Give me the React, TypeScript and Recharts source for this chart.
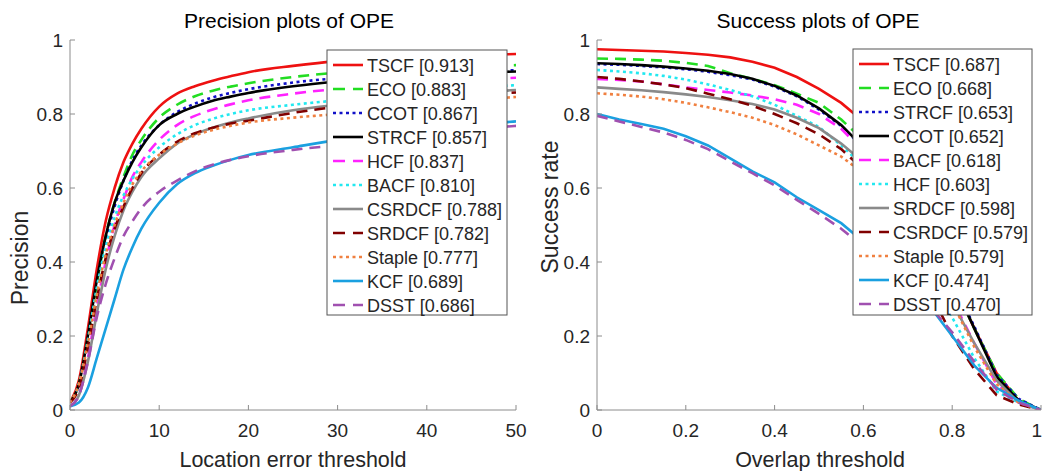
import React from 'react';
import { LineChart, Line, XAxis, YAxis } from 'recharts';

// ---------- Precision plot data ----------
const precisionThresholds = [0, 1, 2, 3, 4, 5, 6, 7, 8, 10, 12, 14, 16, 18, 20, 25, 30, 35, 40, 45, 50];
const precisionNames = ['TSCF', 'ECO', 'CCOT', 'STRCF', 'HCF', 'BACF', 'CSRDCF', 'SRDCF', 'Staple', 'KCF', 'DSST'];
const precisionScores = ['0.913', '0.883', '0.867', '0.857', '0.837', '0.810', '0.788', '0.782', '0.777', '0.689', '0.686'];
const precTSCF = [0.02, 0.08, 0.22, 0.38, 0.51, 0.6, 0.67, 0.72, 0.76, 0.82, 0.855, 0.875, 0.89, 0.902, 0.913, 0.93, 0.943, 0.95, 0.955, 0.959, 0.962];
const precECO = [0.02, 0.07, 0.19, 0.34, 0.47, 0.56, 0.63, 0.69, 0.73, 0.79, 0.825, 0.848, 0.863, 0.874, 0.883, 0.9, 0.912, 0.92, 0.925, 0.929, 0.932];
const precCCOT = [0.02, 0.07, 0.19, 0.34, 0.46, 0.55, 0.62, 0.675, 0.715, 0.77, 0.805, 0.828, 0.845, 0.857, 0.867, 0.885, 0.897, 0.906, 0.912, 0.916, 0.918];
const precSTRCF = [0.02, 0.07, 0.2, 0.35, 0.47, 0.56, 0.62, 0.67, 0.71, 0.77, 0.8, 0.82, 0.836, 0.847, 0.857, 0.875, 0.888, 0.898, 0.906, 0.911, 0.915];
const precHCF = [0.01, 0.04, 0.14, 0.28, 0.4, 0.5, 0.57, 0.63, 0.67, 0.73, 0.77, 0.795, 0.812, 0.826, 0.837, 0.855, 0.868, 0.878, 0.886, 0.893, 0.898];
const precBACF = [0.02, 0.07, 0.19, 0.33, 0.44, 0.52, 0.58, 0.625, 0.66, 0.71, 0.745, 0.77, 0.787, 0.8, 0.81, 0.825, 0.837, 0.848, 0.86, 0.87, 0.878];
const precCSRDCF = [0.01, 0.04, 0.13, 0.26, 0.38, 0.47, 0.54, 0.59, 0.63, 0.68, 0.72, 0.745, 0.763, 0.777, 0.788, 0.81, 0.825, 0.838, 0.848, 0.857, 0.865];
const precSRDCF = [0.02, 0.06, 0.17, 0.3, 0.41, 0.49, 0.55, 0.6, 0.64, 0.69, 0.725, 0.748, 0.763, 0.774, 0.782, 0.803, 0.82, 0.833, 0.843, 0.852, 0.858];
const precStaple = [0.02, 0.07, 0.18, 0.31, 0.42, 0.5, 0.56, 0.61, 0.645, 0.69, 0.72, 0.742, 0.757, 0.768, 0.777, 0.79, 0.8, 0.812, 0.825, 0.837, 0.846];
const precKCF = [0.01, 0.02, 0.06, 0.14, 0.22, 0.3, 0.38, 0.44, 0.49, 0.56, 0.61, 0.64, 0.66, 0.676, 0.689, 0.71, 0.73, 0.745, 0.758, 0.77, 0.78];
const precDSST = [0.01, 0.04, 0.13, 0.25, 0.34, 0.41, 0.47, 0.51, 0.545, 0.59, 0.62, 0.645, 0.663, 0.676, 0.686, 0.703, 0.716, 0.73, 0.745, 0.758, 0.768];
const precisionSeries = [precTSCF, precECO, precCCOT, precSTRCF, precHCF, precBACF, precCSRDCF, precSRDCF, precStaple, precKCF, precDSST];

// ---------- Success plot data ----------
const successThresholds = [0, 0.05, 0.1, 0.15, 0.2, 0.25, 0.3, 0.35, 0.4, 0.45, 0.5, 0.55, 0.6, 0.65, 0.7, 0.75, 0.8, 0.85, 0.9, 0.95, 1];
const successNames = ['TSCF', 'ECO', 'STRCF', 'CCOT', 'BACF', 'HCF', 'SRDCF', 'CSRDCF', 'Staple', 'KCF', 'DSST'];
const successScores = ['0.687', '0.668', '0.653', '0.652', '0.618', '0.603', '0.598', '0.579', '0.579', '0.474', '0.470'];
const succTSCF = [0.975, 0.973, 0.971, 0.969, 0.965, 0.96, 0.953, 0.941, 0.925, 0.9, 0.868, 0.83, 0.78, 0.71, 0.6, 0.48, 0.35, 0.22, 0.1, 0.025, 0];
const succECO = [0.95, 0.949, 0.947, 0.944, 0.938, 0.93, 0.91, 0.895, 0.878, 0.855, 0.83, 0.785, 0.73, 0.66, 0.575, 0.47, 0.35, 0.22, 0.1, 0.03, 0];
const succSTRCF = [0.935, 0.933, 0.93, 0.926, 0.921, 0.914, 0.905, 0.893, 0.874, 0.848, 0.812, 0.768, 0.708, 0.64, 0.56, 0.46, 0.35, 0.225, 0.095, 0.03, 0];
const succCCOT = [0.937, 0.935, 0.932, 0.928, 0.923, 0.917, 0.908, 0.895, 0.876, 0.85, 0.815, 0.77, 0.71, 0.64, 0.56, 0.46, 0.35, 0.22, 0.09, 0.025, 0];
const succBACF = [0.895, 0.892, 0.888, 0.88, 0.872, 0.865, 0.858, 0.85, 0.84, 0.825, 0.8, 0.76, 0.7, 0.62, 0.53, 0.42, 0.3, 0.18, 0.07, 0.02, 0];
const succHCF = [0.919, 0.915, 0.91, 0.903, 0.893, 0.88, 0.865, 0.848, 0.825, 0.795, 0.765, 0.715, 0.66, 0.58, 0.48, 0.37, 0.25, 0.14, 0.05, 0.02, 0];
const succSRDCF = [0.872, 0.868, 0.864, 0.859, 0.853, 0.846, 0.837, 0.827, 0.812, 0.79, 0.762, 0.72, 0.67, 0.59, 0.5, 0.4, 0.29, 0.18, 0.08, 0.02, 0];
const succCSRDCF = [0.9, 0.895, 0.888, 0.88, 0.87, 0.855, 0.84, 0.822, 0.8, 0.775, 0.745, 0.705, 0.65, 0.53, 0.43, 0.32, 0.2, 0.11, 0.04, 0.015, 0];
const succStaple = [0.856, 0.852, 0.847, 0.84, 0.83, 0.818, 0.805, 0.79, 0.77, 0.745, 0.715, 0.685, 0.64, 0.58, 0.5, 0.4, 0.29, 0.17, 0.07, 0.02, 0];
const succKCF = [0.8, 0.785, 0.773, 0.76, 0.74, 0.715, 0.68, 0.645, 0.615, 0.575, 0.54, 0.505, 0.455, 0.4, 0.34, 0.28, 0.2, 0.12, 0.06, 0.025, 0];
const succDSST = [0.795, 0.78, 0.765, 0.75, 0.73, 0.705, 0.672, 0.64, 0.607, 0.568, 0.53, 0.49, 0.44, 0.39, 0.335, 0.28, 0.21, 0.13, 0.055, 0.02, 0];
const successSeries = [succTSCF, succECO, succSTRCF, succCCOT, succBACF, succHCF, succSRDCF, succCSRDCF, succStaple, succKCF, succDSST];

// ---------- Tick labels ----------
const precisionXTicks = [0, 10, 20, 30, 40, 50];
const successXTicks = [0, 0.2, 0.4, 0.6, 0.8, 1];
const yTicks = [0, 0.2, 0.4, 0.6, 0.8, 1];

// ---------- Styles (by rank) ----------
const rankColors = ['#ee1111', '#22dd22', '#1010c8', '#000000', '#ff22ff', '#22e8f0', '#8a8a8a', '#800000', '#f08040', '#1aa0e0', '#a050b0'];
const rankDash = ['', '11 7', '3 3.5', '', '11 7', '3 3.5', '', '11 7', '3 3.5', '', '11 7'];

const FONT = '"Liberation Sans", Arial, Helvetica, sans-serif';
const AXIS_COLOR = '#8c8c8c';
const TEXT_COLOR = '#262626';
const TICK_FONT = 19;

function buildRows(xs: number[], names: string[], series: number[][]) {
  return xs.map((x, i) => {
    const row: Record<string, number> = { x };
    names.forEach((n, k) => {
      row[n] = series[k][i];
    });
    return row;
  });
}

const precisionRows = buildRows(precisionThresholds, precisionNames, precisionSeries);
const successRows = buildRows(successThresholds, successNames, successSeries);

function makeXTick(lastEndAnchor: boolean, lastValue: number) {
  return (props: any) => {
    const { x, y, payload } = props;
    const isLast = lastEndAnchor && payload.value === lastValue;
    return (
      <text
        x={isLast ? x + 1 : x}
        y={y}
        dy="0.71em"
        textAnchor={isLast ? 'end' : 'middle'}
        fontSize={TICK_FONT}
        fill={TEXT_COLOR}
        fontFamily={FONT}
      >
        {String(payload.value)}
      </text>
    );
  };
}

function YTick(props: any) {
  const { x, y, payload } = props;
  return (
    <text x={x} y={y} dy="0.35em" textAnchor="end" fontSize={TICK_FONT} fill={TEXT_COLOR} fontFamily={FONT}>
      {String(payload.value)}
    </text>
  );
}

function Plot(props: {
  width: number;
  rows: Record<string, number>[];
  names: string[];
  xDomain: [number, number];
  xTicks: number[];
  rightMargin: number;
  curve: 'monotone' | 'linear';
  lastEndAnchor: boolean;
}) {
  const { width, rows, names, xDomain, xTicks, rightMargin, curve, lastEndAnchor } = props;
  return (
    <LineChart width={width} height={471} data={rows} margin={{ top: 40, right: rightMargin, bottom: 31, left: 0 }}>
      <XAxis
        dataKey="x"
        type="number"
        domain={xDomain}
        ticks={xTicks}
        height={30}
        tickSize={-5}
        tickMargin={19}
        stroke={AXIS_COLOR}
        tick={makeXTick(lastEndAnchor, xTicks[xTicks.length - 1])}
        interval={0}
        allowDataOverflow
      />
      <XAxis
        xAxisId="top"
        orientation="top"
        type="number"
        domain={xDomain}
        ticks={xTicks}
        height={0}
        tickSize={-5}
        tick={false}
        stroke={AXIS_COLOR}
        allowDataOverflow
      />
      <YAxis
        type="number"
        domain={[0, 1]}
        ticks={yTicks}
        width={70}
        tickSize={-5}
        tickMargin={12}
        stroke={AXIS_COLOR}
        tick={YTick}
        interval={0}
        allowDataOverflow
      />
      <YAxis
        yAxisId="right"
        orientation="right"
        type="number"
        domain={[0, 1]}
        ticks={yTicks}
        width={0}
        tickSize={-5}
        tick={false}
        stroke={AXIS_COLOR}
        allowDataOverflow
      />
      {names.map((n, k) => (
        <Line
          key={n}
          dataKey={n}
          type={curve}
          stroke={rankColors[k]}
          strokeWidth={2.6}
          strokeDasharray={rankDash[k] || undefined}
          dot={false}
          activeDot={false}
          isAnimationActive={false}
        />
      ))}
    </LineChart>
  );
}

function Legend(props: { x: number; y: number; w: number; h: number; names: string[]; scores: string[] }) {
  const { x, y, w, h, names, scores } = props;
  const first = y + 15;
  return (
    <g>
      <rect x={x} y={y} width={w} height={h} fill="#ffffff" stroke="#555555" strokeWidth={1} />
      {names.map((n, i) => {
        const cy = first + i * 24;
        return (
          <g key={n}>
            <line
              x1={x + 6}
              x2={x + 36}
              y1={cy}
              y2={cy}
              stroke={rankColors[i]}
              strokeWidth={2.6}
              strokeDasharray={rankDash[i] === '11 7' ? '12 8' : rankDash[i] || undefined}
            />
            <text x={x + 40} y={cy + 6.5} fontSize={18} fill={TEXT_COLOR} fontFamily={FONT}>
              {`${n} [${scores[i]}]`}
            </text>
          </g>
        );
      })}
    </g>
  );
}

export default function App() {
  return (
    <div style={{ position: 'absolute', left: 0, top: 0, width: 1042, height: 471, background: '#ffffff', overflow: 'hidden' }}>
      <div style={{ position: 'absolute', left: 0, top: 0 }}>
        <Plot
          width={527}
          rows={precisionRows}
          names={precisionNames}
          xDomain={[0, 50]}
          xTicks={precisionXTicks}
          rightMargin={11}
          curve="monotone"
          lastEndAnchor={false}
        />
      </div>
      <div style={{ position: 'absolute', left: 527, top: 0 }}>
        <Plot
          width={515}
          rows={successRows}
          names={successNames}
          xDomain={[0, 1]}
          xTicks={successXTicks}
          rightMargin={1}
          curve="linear"
          lastEndAnchor={true}
        />
      </div>
      <svg width={1042} height={471} style={{ position: 'absolute', left: 0, top: 0, pointerEvents: 'none' }}>
        <text x={289} y={28} textAnchor="middle" fontSize={21} fill="#000" fontFamily={FONT}>
          Precision plots of OPE
        </text>
        <text x={818} y={28} textAnchor="middle" fontSize={21} fill="#000" fontFamily={FONT}>
          Success plots of OPE
        </text>
        <text x={293} y={467} textAnchor="middle" fontSize={21.5} fill={TEXT_COLOR} fontFamily={FONT}>
          Location error threshold
        </text>
        <text x={820} y={467} textAnchor="middle" fontSize={21.5} fill={TEXT_COLOR} fontFamily={FONT}>
          Overlap threshold
        </text>
        <text
          x={0}
          y={0}
          transform="translate(28 258) rotate(-90)"
          textAnchor="middle"
          fontSize={23}
          fill={TEXT_COLOR}
          fontFamily={FONT}
        >
          Precision
        </text>
        <text
          x={0}
          y={0}
          transform="translate(558 207) rotate(-90)"
          textAnchor="middle"
          fontSize={23}
          fill={TEXT_COLOR}
          fontFamily={FONT}
        >
          Success rate
        </text>
        <Legend x={327} y={50} w={180} h={265} names={precisionNames} scores={precisionScores} />
        <Legend x={853} y={49} w={179} h={266} names={successNames} scores={successScores} />
      </svg>
    </div>
  );
}
